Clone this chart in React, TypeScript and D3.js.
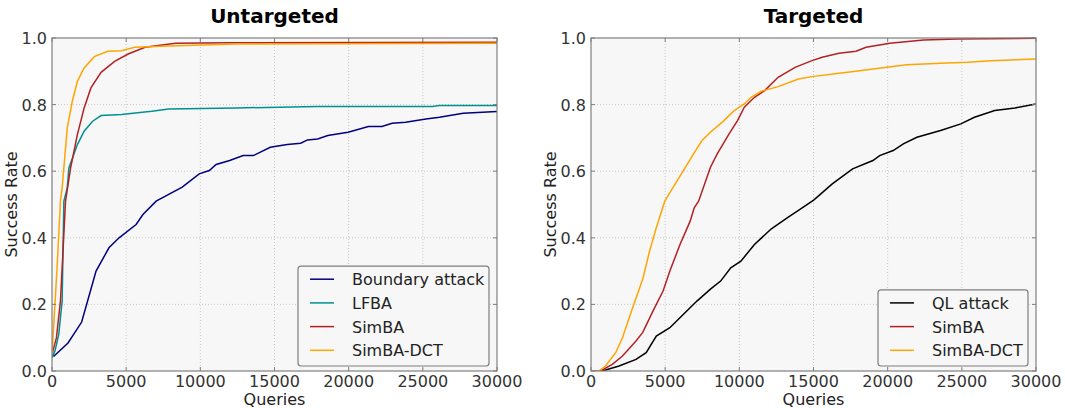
import React from 'react';
import * as d3 from 'd3';

// Untargeted panel
const boundaryQ = [0, 135, 1080, 2000, 2970, 3840, 4520, 5670, 6130, 7020, 8780, 9924, 10608, 11064, 11977, 12890, 13574, 14715, 15856, 16768, 17224, 17909, 18593, 19962, 21331, 22243, 22928, 23840, 25209, 26122, 27719, 30000];
const boundaryV = [0.05, 0.045, 0.084, 0.147, 0.30, 0.37, 0.40, 0.44, 0.47, 0.51, 0.552, 0.592, 0.602, 0.62, 0.632, 0.647, 0.647, 0.672, 0.68, 0.684, 0.694, 0.697, 0.707, 0.717, 0.734, 0.734, 0.744, 0.747, 0.757, 0.762, 0.774, 0.779];
const lfbaQ = [0, 200, 456, 684, 800, 1027, 1140, 1711, 2167, 2738, 3308, 4677, 6730, 7870, 12430, 17900, 25660, 26100, 30000];
const lfbaV = [0.04, 0.06, 0.11, 0.21, 0.51, 0.55, 0.61, 0.68, 0.72, 0.75, 0.767, 0.77, 0.78, 0.787, 0.79, 0.794, 0.794, 0.797, 0.797];
const simbaQ = [0, 300, 570, 912, 1255, 1711, 2167, 2623, 3308, 4220, 5133, 6274, 8327, 12000, 30000];
const simbaV = [0.05, 0.1, 0.21, 0.51, 0.61, 0.71, 0.79, 0.85, 0.897, 0.93, 0.952, 0.972, 0.984, 0.986, 0.987];
const dctQ = [0, 342, 570, 684, 1027, 1369, 1711, 2167, 2851, 3764, 4677, 5589, 7870, 12430, 30000];
const dctV = [0.05, 0.31, 0.51, 0.55, 0.73, 0.81, 0.87, 0.91, 0.944, 0.96, 0.962, 0.972, 0.976, 0.982, 0.984];

// Targeted panel
const qlQ = [0, 753, 1894, 3034, 3719, 4403, 5316, 6456, 7141, 8053, 8738, 9422, 10106, 11019, 12160, 13300, 13985, 15011, 16266, 17635, 19004, 19460, 20372, 21057, 21970, 23567, 24935, 25848, 27217, 28586, 30000];
const qlV = [0, 0, 0.015, 0.035, 0.055, 0.105, 0.13, 0.18, 0.21, 0.246, 0.27, 0.31, 0.33, 0.38, 0.427, 0.462, 0.482, 0.513, 0.562, 0.607, 0.632, 0.647, 0.662, 0.682, 0.702, 0.722, 0.742, 0.762, 0.782, 0.79, 0.802];
const tSimbaQ = [0, 640, 1437, 2122, 3034, 3490, 4175, 4859, 5316, 6000, 6684, 6958, 7255, 8053, 8510, 9308, 9878, 10335, 11019, 11703, 12616, 13757, 14897, 15582, 16722, 17863, 18547, 20144, 22426, 24707, 30000];
const tSimbaV = [0, 0, 0.02, 0.045, 0.09, 0.116, 0.18, 0.24, 0.30, 0.38, 0.45, 0.49, 0.51, 0.612, 0.652, 0.712, 0.752, 0.792, 0.822, 0.842, 0.882, 0.912, 0.932, 0.942, 0.954, 0.96, 0.972, 0.984, 0.994, 0.997, 0.999];
const tDctQ = [0, 525, 981, 1665, 2122, 2806, 3490, 3947, 4403, 4973, 5544, 6228, 6912, 7483, 8053, 8966, 9650, 10335, 10791, 11475, 12616, 13985, 14897, 16722, 17863, 19004, 21285, 23567, 25392, 26989, 30000];
const tDctV = [0, 0, 0.015, 0.055, 0.1, 0.19, 0.276, 0.36, 0.43, 0.51, 0.552, 0.602, 0.652, 0.692, 0.717, 0.752, 0.782, 0.802, 0.822, 0.84, 0.854, 0.877, 0.884, 0.894, 0.90, 0.907, 0.92, 0.924, 0.927, 0.932, 0.937];

const xTicks = [0, 5000, 10000, 15000, 20000, 25000, 30000];
const yTicks = [0, 0.2, 0.4, 0.6, 0.8, 1.0];

const FONT = '"DejaVu Sans", sans-serif';

type Series = { name: string; color: string; q: number[]; v: number[] };

const Panel = ({ left, title, series, legendW }: { left: number; title: string; series: Series[]; legendW: number }) => {
  const top = 38, w = 445, h = 333;
  const x = d3.scaleLinear().domain([0, 30000]).range([left, left + w]);
  const y = d3.scaleLinear().domain([0, 1]).range([top + h, top]);
  const line = d3.line<[number, number]>().x(d => x(d[0])).y(d => y(d[1]));
  const rowH = 23.7;
  const lgRight = left + w - 8;
  const lgBottom = top + h - 5;
  const lgH = series.length * rowH + 5;
  const lgLeft = lgRight - legendW;
  const lgTop = lgBottom - lgH;
  return (
    <g>
      <text x={left + w / 2} y={23} textAnchor="middle" fontFamily={FONT} fontWeight="bold" fontSize={20}>{title}</text>
      <rect x={left} y={top} width={w} height={h} fill="#f7f7f7" />
      {xTicks.slice(1, -1).map(t => (
        <line key={'gx' + t} x1={x(t)} x2={x(t)} y1={top} y2={top + h} stroke="#c8c8c8" strokeDasharray="1,2" />
      ))}
      {yTicks.slice(1, -1).map(t => (
        <line key={'gy' + t} x1={left} x2={left + w} y1={y(t)} y2={y(t)} stroke="#c8c8c8" strokeDasharray="1,2" />
      ))}
      <defs>
        <clipPath id={'clip' + left}><rect x={left} y={top - 1} width={w} height={h + 1} /></clipPath>
      </defs>
      <g clipPath={`url(#clip${left})`}>
        {series.map(s => (
          <path key={s.name} d={line(s.q.map((q, i) => [q, s.v[i]]) as [number, number][]) || ''} fill="none" stroke={s.color} strokeWidth={1.5} />
        ))}
      </g>
      <rect x={left} y={top} width={w} height={h} fill="none" stroke="#7f7f7f" strokeWidth={1.2} />
      {xTicks.map(t => (
        <g key={'tx' + t}>
          <line x1={x(t)} x2={x(t)} y1={top + h} y2={top + h - 4} stroke="#7f7f7f" />
          <line x1={x(t)} x2={x(t)} y1={top} y2={top + 4} stroke="#7f7f7f" />
          <text x={x(t)} y={top + h + 16} textAnchor="middle" fontFamily={FONT} fontSize={16} fill="#333">{t}</text>
        </g>
      ))}
      {yTicks.map(t => (
        <g key={'ty' + t}>
          <line x1={left} x2={left + 4} y1={y(t)} y2={y(t)} stroke="#7f7f7f" />
          <line x1={left + w} x2={left + w - 4} y1={y(t)} y2={y(t)} stroke="#7f7f7f" />
          <text x={left - 5} y={y(t) + 6} textAnchor="end" fontFamily={FONT} fontSize={16} fill="#333">{t.toFixed(1)}</text>
        </g>
      ))}
      <text x={left + w / 2} y={top + h + 34} textAnchor="middle" fontFamily={FONT} fontSize={16} fill="#222">Queries</text>
      <text transform={`translate(${left - 35},${top + h / 2}) rotate(-90)`} textAnchor="middle" fontFamily={FONT} fontSize={16} fill="#222">Success Rate</text>
      <rect x={lgLeft} y={lgTop} width={legendW} height={lgH} rx={3} fill="#f7f7f7" stroke="#7f7f7f" strokeWidth={1.2} />
      {series.map((s, i) => {
        const cy = lgTop + 13 + i * rowH;
        return (
          <g key={'lg' + s.name}>
            <line x1={lgLeft + 12} x2={lgLeft + 36} y1={cy} y2={cy} stroke={s.color} strokeWidth={1.5} />
            <text x={lgLeft + 54} y={cy + 6} fontFamily={FONT} fontSize={16} fill="#222">{s.name}</text>
          </g>
        );
      })}
    </g>
  );
};

const App = () => {
  const untargeted: Series[] = [
    { name: 'Boundary attack', color: '#000080', q: boundaryQ, v: boundaryV },
    { name: 'LFBA', color: '#009090', q: lfbaQ, v: lfbaV },
    { name: 'SimBA', color: '#b22222', q: simbaQ, v: simbaV },
    { name: 'SimBA-DCT', color: '#ffa500', q: dctQ, v: dctV },
  ];
  const targeted: Series[] = [
    { name: 'QL attack', color: '#000000', q: qlQ, v: qlV },
    { name: 'SimBA', color: '#b22222', q: tSimbaQ, v: tSimbaV },
    { name: 'SimBA-DCT', color: '#ffa500', q: tDctQ, v: tDctV },
  ];
  return (
    <svg width={1065} height={408} style={{ position: 'absolute', left: 0, top: 0, background: '#fff' }}>
      <Panel left={52} title="Untargeted" series={untargeted} legendW={191} />
      <Panel left={591} title="Targeted" series={targeted} legendW={150} />
    </svg>
  );
};

export default App;
